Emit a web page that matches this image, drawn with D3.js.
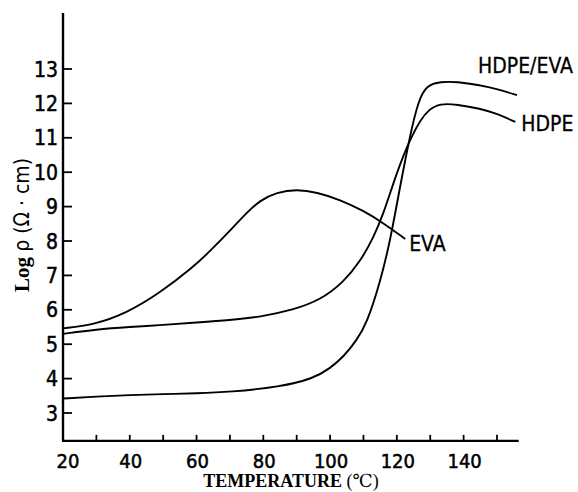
<!DOCTYPE html>
<html>
<head>
<meta charset="utf-8">
<script src="https://cdn.jsdelivr.net/npm/d3@7"></script>
<style>
  html, body { margin: 0; padding: 0; background: #fff; }
  svg { display: block; }
  .cond { font-family: "DejaVu Sans", sans-serif; font-stretch: condensed; }
</style>
</head>
<body>
<svg id="chart" width="578" height="492"></svg>
<script>
// values: temperature (°C) and log resistivity
const evaTemp = [20, 29, 39, 49, 59, 64, 71, 75, 79, 84, 90, 96, 103, 110, 116, 122.5];
const evaLog = [5.46, 5.56, 5.9, 6.49, 7.24, 7.7, 8.4, 8.82, 9.18, 9.42, 9.5, 9.42, 9.2, 8.88, 8.52, 8.06];

const hdpeTemp = [20, 30, 40, 50, 60, 70, 79, 89, 97, 104, 109, 113, 116, 119, 122, 124.5, 127, 129.5, 133, 138, 145, 150, 155.5];
const hdpeLog = [5.3, 5.43, 5.5, 5.56, 5.63, 5.7, 5.79, 6.0, 6.28, 6.8, 7.4, 8.1, 8.8, 9.7, 10.5, 11.05, 11.5, 11.82, 12.0, 11.97, 11.85, 11.7, 11.46];

const blendTemp = [20, 30, 40, 50, 60, 70, 85, 95, 100, 104, 108, 111, 115, 118, 121, 124, 126.5, 129, 133, 138, 145, 150, 156];
const blendLog = [3.42, 3.48, 3.52, 3.55, 3.57, 3.61, 3.76, 4.0, 4.3, 4.63, 5.12, 5.6, 6.8, 8.0, 9.6, 11.1, 12.1, 12.53, 12.63, 12.63, 12.53, 12.42, 12.24];

const xTicks = [30, 40, 50, 60, 70, 80, 90, 100, 110, 120, 130, 140, 150];
const xLabels = [20, 40, 60, 80, 100, 120, 140];
const yTicks = [3, 4, 5, 6, 7, 8, 9, 10, 11, 12, 13];

const seriesNames = ['EVA', 'HDPE', 'HDPE/EVA'];

const svg = d3.select('#chart');
const serifFont = '"Liberation Serif", "DejaVu Serif", serif';

const x = d3.scaleLinear().domain([20, 150]).range([63, 497]);
const y = d3.scaleLinear().domain([3, 13]).range([413, 69]);

const xEnd = 156.5, yBottom = 2.19, yTop = 14.63;

// axes
const axes = svg.append('g')
    .attr('stroke', '#000')
    .attr('stroke-width', 2.4)
    .attr('fill', 'none');

axes.append('line')
    .attr('x1', x(20)).attr('x2', x(20))
    .attr('y1', y(yBottom)).attr('y2', y(yTop));

axes.append('line')
    .attr('x1', x(20) - 1).attr('x2', x(xEnd))
    .attr('y1', y(yBottom)).attr('y2', y(yBottom));

axes.selectAll('.xt')
    .data(xTicks)
    .join('line')
    .attr('stroke-width', 1.8)
    .attr('x1', d => x(d)).attr('x2', d => x(d))
    .attr('y1', y(yBottom)).attr('y2', y(yBottom) - 6);

axes.selectAll('.yt')
    .data(yTicks)
    .join('line')
    .attr('stroke-width', 1.8)
    .attr('x1', x(20)).attr('x2', x(20) + 9)
    .attr('y1', d => y(d)).attr('y2', d => y(d));

// tick labels
svg.append('g')
    .selectAll('text')
    .data(xLabels)
    .join('text')
    .attr('class', 'cond')
    .attr('x', d => x(d) + (d === 20 ? 5 : 1))
    .attr('y', y(yBottom) + 27)
    .attr('text-anchor', 'middle')
    .attr('font-size', 20)
    .attr('stroke', '#000')
    .attr('stroke-width', 0.5)
    .text(d => d);

svg.append('g')
    .selectAll('text')
    .data(yTicks)
    .join('text')
    .attr('class', 'cond')
    .attr('x', x(20) - 5)
    .attr('y', d => y(d))
    .attr('dy', '0.36em')
    .attr('text-anchor', 'end')
    .attr('font-size', 21)
    .attr('stroke', '#000')
    .attr('stroke-width', 0.5)
    .text(d => d);

// axis titles
const xTitle = svg.append('text')
    .attr('x', 291)
    .attr('y', 487)
    .attr('text-anchor', 'middle')
    .attr('font-family', serifFont)
    .attr('font-size', 18);
xTitle.append('tspan').attr('font-weight', 'bold').text('TEMPERATURE ');
xTitle.append('tspan').text('(\u2103)');

const yTitle = svg.append('text')
    .attr('transform', 'translate(29,225) rotate(-90)')
    .attr('text-anchor', 'middle')
    .attr('font-size', 21);
yTitle.append('tspan')
    .attr('font-family', serifFont)
    .attr('font-weight', 'bold')
    .text('Log ');
yTitle.append('tspan')
    .attr('class', 'cond')
    .text('\u03C1 (\u03A9 \u00B7 cm)');

// curves
const series = [
    { name: seriesNames[0], t: evaTemp, v: evaLog },
    { name: seriesNames[1], t: hdpeTemp, v: hdpeLog },
    { name: seriesNames[2], t: blendTemp, v: blendLog }
];

const line = d3.line()
    .x(d => x(d[0]))
    .y(d => y(d[1]))
    .curve(d3.curveBasis);

svg.append('g')
    .selectAll('path')
    .data(series)
    .join('path')
    .attr('d', s => line(s.t.map((t, i) => [t, s.v[i]])))
    .attr('fill', 'none')
    .attr('stroke', '#000')
    .attr('stroke-width', 1.9);

// curve labels, placed next to each curve's last point
const labelOffsets = { 'EVA': [4, 12], 'HDPE': [6, 9], 'HDPE/EVA': [-39, -22] };

svg.append('g')
    .selectAll('text')
    .data(series)
    .join('text')
    .attr('class', 'cond')
    .attr('x', s => x(s.t[s.t.length - 1]) + labelOffsets[s.name][0])
    .attr('y', s => y(s.v[s.v.length - 1]) + labelOffsets[s.name][1])
    .attr('font-size', 21)
    .attr('stroke', '#000')
    .attr('stroke-width', 0.3)
    .text(s => s.name);
</script>
</body>
</html>
